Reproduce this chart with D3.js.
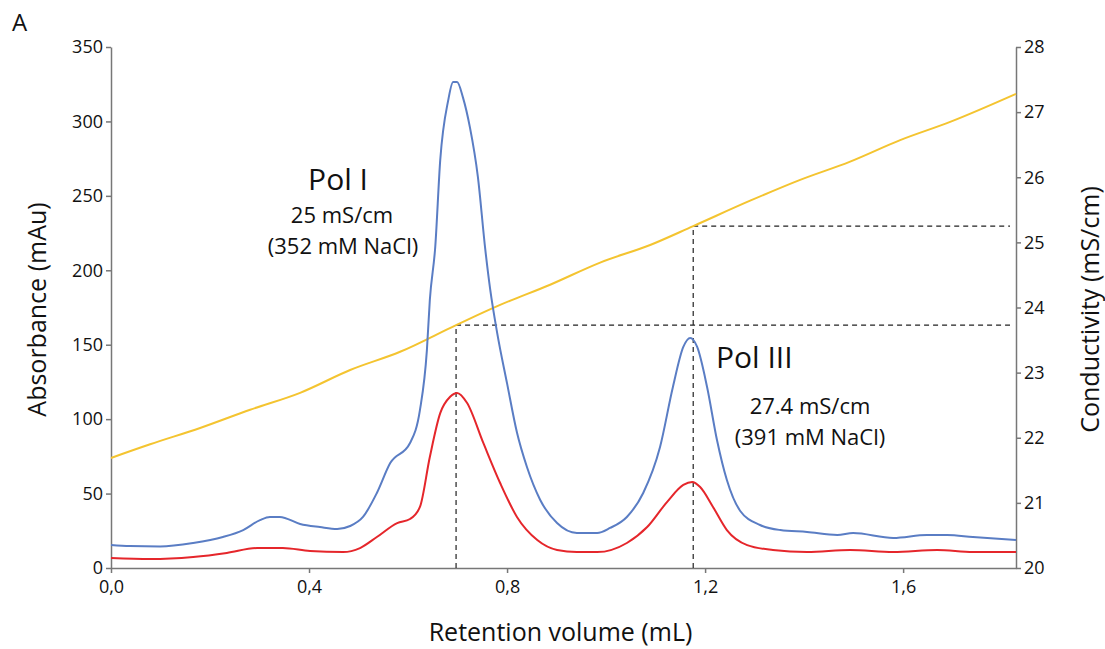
<!DOCTYPE html>
<html>
<head>
<meta charset="utf-8">
<script src="https://cdn.jsdelivr.net/npm/d3@7"></script>
<style>
  body { margin: 0; background: #fff; }
  text { font-family: "Open Sans", "DejaVu Sans", sans-serif; fill: #111; }
  .axis path, .axis line { stroke: #777; stroke-width: 1.5; }
</style>
</head>
<body>
<div id="chart"></div>
<script>
// retention volume (mL) and absorbance (mAu) traces
var blueX = [0, 0.038, 0.099, 0.166, 0.226, 0.267, 0.301, 0.321, 0.341, 0.382, 0.422, 0.457, 0.483, 0.509, 0.537, 0.564, 0.604, 0.624, 0.638, 0.644, 0.655, 0.665, 0.681, 0.691, 0.699, 0.711, 0.725, 0.741, 0.756, 0.766, 0.780, 0.800, 0.820, 0.840, 0.867, 0.901, 0.941, 0.982, 1.008, 1.042, 1.075, 1.109, 1.135, 1.156, 1.170, 1.184, 1.204, 1.224, 1.244, 1.271, 1.311, 1.352, 1.406, 1.467, 1.499, 1.580, 1.648, 1.689, 1.741, 1.828];
var blueY = [15.5, 14.8, 14.5, 16.8, 20.8, 25.5, 32.2, 34.3, 34.3, 29.6, 27.5, 26.2, 28.2, 34.3, 50.4, 70.5, 84, 106, 146, 180, 216, 274, 314, 326.5, 326.5, 316, 296, 263, 214, 187, 158, 124, 91, 68, 45.7, 30.2, 23.5, 23.5, 26.9, 34.3, 50.4, 81.3, 121.6, 148.5, 154.5, 148.5, 121.6, 86, 59.1, 38.3, 28.9, 25.5, 24.2, 22.2, 23.5, 20.2, 22.2, 22.2, 20.8, 18.8];

var redX = [0, 0.079, 0.166, 0.234, 0.295, 0.347, 0.402, 0.469, 0.503, 0.537, 0.578, 0.604, 0.624, 0.644, 0.665, 0.685, 0.699, 0.719, 0.752, 0.786, 0.820, 0.861, 0.901, 0.941, 0.982, 1.042, 1.083, 1.123, 1.156, 1.174, 1.190, 1.216, 1.244, 1.285, 1.337, 1.406, 1.493, 1.580, 1.669, 1.741, 1.828];
var redY = [6.7, 6.0, 7.4, 10.1, 13.4, 13.4, 11.4, 10.7, 13.4, 20.8, 30.2, 32.9, 41, 74.6, 104, 115, 117.6, 111, 84, 57.1, 34.3, 18.8, 12.1, 10.7, 10.7, 16.8, 27.5, 44.3, 55.8, 57.8, 54.4, 41, 25.5, 15.4, 12.1, 10.7, 12.1, 10.7, 12.1, 10.7, 10.7];

// conductivity (mS/cm)
var condX = [0, 0.079, 0.180, 0.281, 0.382, 0.483, 0.584, 0.697, 0.786, 0.887, 0.988, 1.089, 1.176, 1.291, 1.392, 1.493, 1.594, 1.695, 1.828];
var condY = [21.69, 21.90, 22.15, 22.43, 22.69, 23.04, 23.32, 23.73, 24.04, 24.35, 24.69, 24.96, 25.25, 25.64, 25.96, 26.24, 26.57, 26.85, 27.28];

// peak markers: retention volume, conductivity
var peakX = [0.697, 1.176];
var peakCond = [23.73, 25.25];

var xTicks = [0, 0.4, 0.8, 1.2, 1.6];
var yTicks = [0, 50, 100, 150, 200, 250, 300, 350];
var y2Ticks = [20, 21, 22, 23, 24, 25, 26, 27, 28];

(function() {
var svgWidth = 1105;
var svgHeight = 649;
var mLeft = 111, mRight = 1016, mTop = 47, mBottom = 568;

var svg = d3.select("#chart").append("svg")
  .attr("width", svgWidth)
  .attr("height", svgHeight);

var xScale = d3.scaleLinear().domain([0, 1.828]).range([mLeft, mRight]);
var yScale = d3.scaleLinear().domain([0, 350]).range([mBottom, mTop]);
var y2Scale = d3.scaleLinear().domain([20, 28]).range([mBottom, mTop]);

var comma = function(d) { return d.toFixed(1).replace(".", ","); };

function styleAxis(g) {
  g.attr("font-size", 18).attr("font-family", null);
  g.selectAll("text").style("font-size", "18px");
}

// axes
svg.append("g").attr("class", "axis")
  .attr("transform", "translate(0," + mBottom + ")")
  .call(d3.axisBottom(xScale).tickValues(xTicks).tickFormat(comma).tickSize(5).tickSizeOuter(0))
  .call(styleAxis)
  .selectAll("text").attr("dy", "0.95em");

svg.append("g").attr("class", "axis")
  .attr("transform", "translate(" + mLeft + ",0)")
  .call(d3.axisLeft(yScale).tickValues(yTicks).tickSize(5).tickSizeOuter(0))
  .call(styleAxis);

svg.append("g").attr("class", "axis")
  .attr("transform", "translate(" + mRight + ",0)")
  .call(d3.axisRight(y2Scale).tickValues(y2Ticks).tickSize(5).tickSizeOuter(0))
  .call(styleAxis);

// dashed guides
peakX.forEach(function(px, i) {
  svg.append("line")
    .attr("x1", xScale(px)).attr("x2", xScale(px))
    .attr("y1", mBottom).attr("y2", y2Scale(peakCond[i]))
    .attr("stroke", "#222").attr("stroke-width", 1.2).attr("stroke-dasharray", "5,4");
  svg.append("line")
    .attr("x1", xScale(px)).attr("x2", mRight - 6)
    .attr("y1", y2Scale(peakCond[i])).attr("y2", y2Scale(peakCond[i]))
    .attr("stroke", "#222").attr("stroke-width", 1.2).attr("stroke-dasharray", "5,4");
});

function trace(xs, ys, ysc, color) {
  var pts = xs.map(function(x, i) { return [x, ys[i]]; });
  svg.append("path")
    .datum(pts)
    .attr("fill", "none")
    .attr("stroke", color)
    .attr("stroke-width", 2)
    .attr("d", d3.line()
      .x(function(d) { return xScale(d[0]); })
      .y(function(d) { return ysc(d[1]); })
      .curve(d3.curveMonotoneX));
}

trace(condX, condY, y2Scale, "#f4c430");
trace(redX, redY, yScale, "#e5262b");
trace(blueX, blueY, yScale, "#5a7dc4");

// labels
svg.append("text").attr("x", 12).attr("y", 31).attr("font-size", 24).text("A");

svg.append("text").attr("x", 338).attr("y", 190).attr("text-anchor", "middle").attr("font-size", 30).text("Pol I");
svg.append("text").attr("x", 342).attr("y", 223).attr("text-anchor", "middle").attr("font-size", 22).text("25 mS/cm");
svg.append("text").attr("x", 343).attr("y", 254).attr("text-anchor", "middle").attr("font-size", 22).text("(352 mM NaCl)");

svg.append("text").attr("x", 716).attr("y", 368).attr("font-size", 30).text("Pol III");
svg.append("text").attr("x", 810).attr("y", 414).attr("text-anchor", "middle").attr("font-size", 22).text("27.4 mS/cm");
svg.append("text").attr("x", 810).attr("y", 445).attr("text-anchor", "middle").attr("font-size", 22).text("(391 mM NaCl)");

svg.append("text")
  .attr("transform", "translate(46," + ((mTop + mBottom) / 2 + 2) + ")rotate(-90)")
  .attr("text-anchor", "middle").attr("font-size", 25)
  .text("Absorbance (mAu)");

svg.append("text")
  .attr("transform", "translate(1099," + ((mTop + mBottom) / 2 + 2) + ")rotate(-90)")
  .attr("text-anchor", "middle").attr("font-size", 25)
  .text("Conductivity (mS/cm)");

svg.append("text")
  .attr("x", (mLeft + mRight) / 2 - 3).attr("y", 641)
  .attr("text-anchor", "middle").attr("font-size", 25)
  .text("Retention volume (mL)");
})();
</script>
</body>
</html>
